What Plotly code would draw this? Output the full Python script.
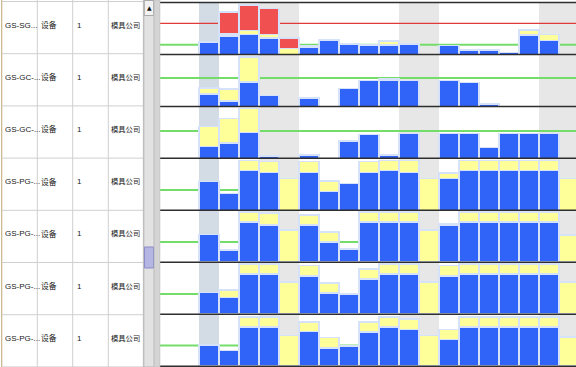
import plotly.graph_objects as go

W, H = 576, 367

# ---------------- data ----------------
days = list(range(19))
weekend_days = [3, 4, 10, 11, 17, 18]
today_day = 0

res_codes = ["GS-SG...", "GS-GC-...", "GS-GC-...", "GS-PG-...", "GS-PG-...", "GS-PG-...", "GS-PG-..."]
res_types = ["设备"] * 7
res_qty = ["1"] * 7
res_owner = ["模具公司"] * 7

N = None
blue = [
    [12.3, 18.3, 20, 16.7, N, 7.7, 14.7, 10.3, 9.7, 9.7, 10.3, N, 9, 4.3, 4.3, 2, 19.3, 14, N],
    [12.7, 5.3, 24.3, 11, N, 8.7, N, 18, 26, 26, 26, N, 26, 24, 2.3, N, N, N, N],
    [11.7, 15.3, 25.7, 2.3, N, 3.3, N, 17.3, 24, 3.3, 24.7, N, 24.7, 24.7, 10.7, 24.7, 24.7, 24.7, N],
    [28.7, 16.7, 40, 38, N, 38, 18.7, 26.7, 38, 40, 38, N, 32, 40, 40, 40, 40, 40, N],
    [27.7, 12, 40, 37.3, N, 37.3, 20, 13, 40, 40, 40, N, 36.7, 40, 40, 40, 40, 40, N],
    [21.7, 16.7, 40, 40, N, 38, 21.3, 20.3, 35.3, 40, 40, N, 38, 40, 40, 40, 40, 40, N],
    [21, 15.7, 39, 39, N, 34.7, 18, 20, 34, 39, 36.7, N, 26.7, 39, 39, 39, 39, 39, N],
]
yellow = [
    [N, 2.3, 4, 3.3, 6, 1, N, N, N, 4, N, N, N, N, N, N, 5, 6, N],
    [6, 12.3, 25, N, N, N, N, N, N, 1.7, N, N, N, N, N, N, N, N, N],
    [20, 24.7, 24.3, N, N, N, N, N, N, N, N, N, N, N, N, N, N, N, N],
    [N, N, 10, 10.7, 32, 10.7, 10.7, N, 10.7, 10, 12, 32, 5.3, 10, 10, 10, 10, 10, 32],
    [N, N, 10, 11.7, 32.3, 10, 10, N, 10, 10, 10, 32.3, 1.3, 10, 10, 10, 10, 10, 27.3],
    [N, 7.7, 10, 10, 32, 10.7, 9.7, N, 10, 10, 10, 32, 10.7, 10, 10, 10, 10, 10, 32],
    [N, N, 10, 10, 30.7, 9.3, 10.7, N, 10, 10, 10.7, 30.7, 10, 10, 10, 10, 10, 10, 29],
]
red = [
    [N, 21.7, 25.3, 26, 10.7, N, N, N, N, N, N, N, N, N, N, N, N, N, N],
    [N] * 19, [N] * 19, [N] * 19, [N] * 19, [N] * 19, [N] * 19,
]
green_cap = [9.7, 28.3, 27.3, 20.2, 20.3, 20.3, 20.7]
red_cap = [31, N, N, N, N, N, N]

# ---------------- styling ----------------
C_BLUE = "#3063f7"
C_YELLOW = "#ffff99"
C_RED = "#f05050"
C_EDGE = "#d6e2fa"
C_GREEN = "#74dd6a"
C_REDLINE = "#e03a3a"
C_WEEKEND = "#e7e7e7"
C_TODAY = "#d3dbe4"
C_ROWLINE = "#2e2e2e"
C_GRID = "#cfcfcf"

X_LEFT = 160.0
TOP = 2.5
RH = 51.95
XR = [-2.45, 18.35]

def py(px):
    return 1 - px / H

def pxx(px):
    return px / W

fig = go.Figure()
shapes = []
annotations = []

# weekend / today background bands
for d in weekend_days:
    shapes.append(dict(type="rect", xref="x", yref="paper", x0=d - 0.5, x1=d + 0.5,
                       y0=0, y1=py(TOP), fillcolor=C_WEEKEND, line_width=0, layer="below"))
shapes.append(dict(type="rect", xref="x", yref="paper", x0=today_day - 0.5, x1=today_day + 0.5,
                   y0=0, y1=py(TOP), fillcolor=C_TODAY, line_width=0, layer="below"))

layout_axes = {}
for k in range(7):
    ax = "" if k == 0 else str(k + 1)
    y_top = TOP + RH * k
    y_bot = y_top + RH
    layout_axes[f"xaxis{ax}"] = dict(domain=[pxx(X_LEFT), 1], range=XR, visible=False,
                                     fixedrange=True, anchor=f"y{ax}")
    layout_axes[f"yaxis{ax}"] = dict(domain=[max(0, py(y_bot)), py(y_top)], range=[0, RH],
                                     visible=False, fixedrange=True, anchor=f"x{ax}")
    for vals, col in ((blue[k], C_BLUE), (yellow[k], C_YELLOW), (red[k], C_RED)):
        fig.add_trace(go.Bar(x=days, y=vals, width=1.0, xaxis=f"x{ax}", yaxis=f"y{ax}",
                             marker=dict(color=col, line=dict(color=C_EDGE, width=1.6)),
                             showlegend=False, hoverinfo="skip"))
    # capacity lines
    shapes.append(dict(type="line", xref="paper", yref=f"y{ax}", x0=pxx(X_LEFT), x1=1,
                       y0=green_cap[k], y1=green_cap[k], line=dict(color=C_GREEN, width=2), layer="below"))
    if red_cap[k] is not None:
        shapes.append(dict(type="line", xref="paper", yref=f"y{ax}", x0=pxx(X_LEFT), x1=1,
                           y0=red_cap[k], y1=red_cap[k], line=dict(color=C_REDLINE, width=1.2), layer="below"))

# chart row separator lines
for k in range(8):
    yy = TOP + RH * k
    shapes.append(dict(type="line", xref="paper", yref="paper", x0=pxx(X_LEFT), x1=1,
                       y0=py(yy), y1=py(yy), line=dict(color=C_ROWLINE, width=1.5), layer="above"))

# ---------------- left table ----------------
T_TOP = 1.5
T_RH = 52.2
col_x = [37.3, 72.7, 108.3, 143.3]
for cx in col_x:
    shapes.append(dict(type="line", xref="paper", yref="paper", x0=pxx(cx), x1=pxx(cx),
                       y0=0, y1=1, line=dict(color=C_GRID, width=1)))
shapes.append(dict(type="line", xref="paper", yref="paper", x0=pxx(1.7), x1=pxx(1.7),
                   y0=0, y1=1, line=dict(color="#c8b486", width=1.2)))
for k in range(8):
    yy = T_TOP + T_RH * k
    shapes.append(dict(type="line", xref="paper", yref="paper", x0=pxx(1.7), x1=pxx(143.3),
                       y0=py(yy), y1=py(yy), line=dict(color=C_GRID, width=1)))

FONT = "Liberation Sans, Noto Sans CJK SC, sans-serif"
for k in range(7):
    yc = py(T_TOP + T_RH * k + 23.5)
    for txt, xx, sz in ((res_codes[k], 2.5, 8), (res_types[k], 38.5, 7.8),
                        (res_qty[k], 74.5, 8), (res_owner[k], 108.8, 7.3)):
        annotations.append(dict(text=txt, x=pxx(xx), y=yc, xref="paper", yref="paper",
                                xanchor="left", yanchor="middle", showarrow=False,
                                font=dict(family=FONT, size=sz, color="#1a1a1a")))

# ---------------- scrollbar ----------------
shapes.append(dict(type="rect", xref="paper", yref="paper", x0=pxx(143.8), x1=pxx(154.2),
                   y0=0, y1=1, fillcolor="#e2e2e2", line=dict(color="#b4b4b4", width=1)))
shapes.append(dict(type="rect", xref="paper", yref="paper", x0=pxx(144.3), x1=pxx(153.7),
                   y0=py(15.5), y1=py(0.5), fillcolor="#f2f2f2", line=dict(color="#a8a8a8", width=1)))
shapes.append(dict(type="rect", xref="paper", yref="paper", x0=pxx(144.5), x1=pxx(153.5),
                   y0=py(268), y1=py(247), fillcolor="#b6b6e4", line=dict(color="#8c8cc8", width=1)))
shapes.append(dict(type="rect", xref="paper", yref="paper", x0=pxx(154.2), x1=pxx(159.8),
                   y0=0, y1=1, fillcolor="#d4d4d4", line=dict(color="#c0c0c0", width=0.8)))
annotations.append(dict(text="▲", x=pxx(149), y=py(7.5), xref="paper", yref="paper",
                        xanchor="center", yanchor="middle", showarrow=False,
                        font=dict(family="DejaVu Sans", size=6, color="#111111")))

fig.update_layout(
    width=W, height=H,
    margin=dict(l=0, r=0, t=0, b=0),
    paper_bgcolor="white", plot_bgcolor="rgba(0,0,0,0)",
    barmode="stack", bargap=0, showlegend=False,
    shapes=shapes, annotations=annotations,
    **layout_axes,
)

fig.write_html("out.html",
               config={"displayModeBar": False, "staticPlot": True},
               post_script="document.body.style.margin='0';document.body.style.padding='0';"
                           "document.body.style.overflow='hidden';")
